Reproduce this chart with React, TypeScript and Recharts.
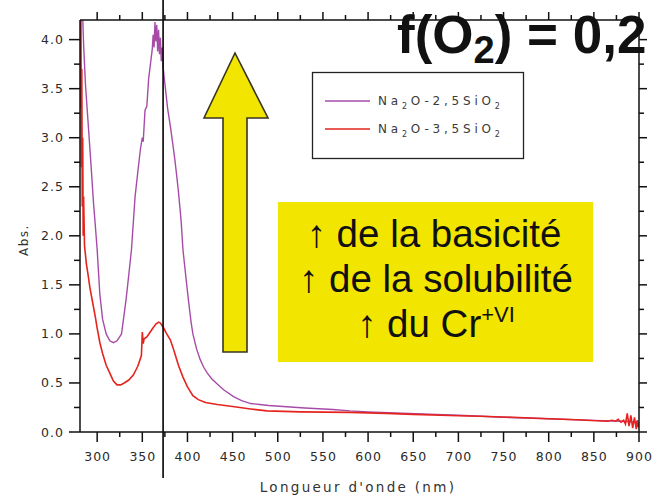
import React from 'react';
import { LineChart, Line, XAxis, YAxis, ReferenceLine } from 'recharts';

// ---------- data ----------
const series1Name = 'Na2O-2,5SiO2';
const series2Name = 'Na2O-3,5SiO2';

const purpleNm = [283, 285, 287, 290, 293, 296, 298, 300, 303, 306, 310, 314, 318, 322, 327, 332, 335, 338, 342, 345, 348, 350, 351, 353, 355, 357, 359, 361, 362, 363, 364, 365, 366, 367, 368, 369, 370, 371, 372, 373, 375, 378, 381, 384, 386, 388, 390, 393, 395, 398, 401, 404, 406, 410, 414, 418, 422, 427, 433, 440, 451, 460, 470, 480, 490, 506, 530, 561, 580, 600, 630, 660, 700, 750, 800, 850, 880, 900];
const purpleAbs = [4.5, 3.95, 3.55, 3.15, 2.75, 2.33, 2.1, 1.86, 1.4, 1.15, 1.0, 0.93, 0.91, 0.93, 1.0, 1.35, 1.6, 1.86, 2.4, 2.65, 2.89, 3.0, 2.96, 3.28, 3.32, 3.6, 3.75, 3.9, 4.05, 3.92, 4.18, 3.98, 4.15, 3.88, 4.1, 3.85, 4.02, 3.78, 3.92, 3.72, 3.55, 3.3, 3.12, 2.92, 2.78, 2.62, 2.45, 2.15, 1.86, 1.6, 1.35, 1.12, 1.0, 0.85, 0.74, 0.66, 0.6, 0.54, 0.49, 0.43, 0.36, 0.32, 0.29, 0.28, 0.27, 0.26, 0.245, 0.23, 0.215, 0.205, 0.195, 0.185, 0.17, 0.15, 0.135, 0.118, 0.11, 0.1];

const redNm = [281, 281.5, 282, 282.5, 283, 283.5, 284, 284.5, 285, 286, 288, 290, 292, 295, 298, 300, 303, 306, 310, 314, 318, 322, 326, 330, 335, 340, 345, 349, 350, 351, 352, 355, 358, 361, 365, 368, 370, 373, 377, 381, 384, 386, 390, 395, 400, 406, 412, 420, 433, 450, 470, 488, 525, 580, 620, 650, 700, 724, 760, 800, 830, 853, 865, 870, 874, 877, 880, 883, 885, 887, 889, 891, 893, 895, 897, 898, 899, 900];
const redAbs = [4.6, 3.3, 4.3, 2.7, 3.7, 2.3, 3.0, 2.0, 2.4, 1.9, 1.72, 1.6, 1.47, 1.32, 1.17, 1.06, 0.91, 0.8, 0.68, 0.6, 0.52, 0.48, 0.48, 0.5, 0.53, 0.58, 0.67, 0.78, 1.02, 0.9, 0.95, 0.97, 1.01, 1.05, 1.1, 1.12, 1.11, 1.07, 1.0, 0.94, 0.86, 0.8, 0.68, 0.56, 0.46, 0.37, 0.33, 0.3, 0.28, 0.26, 0.235, 0.215, 0.205, 0.2, 0.19, 0.18, 0.165, 0.16, 0.15, 0.135, 0.125, 0.115, 0.11, 0.12, 0.11, 0.13, 0.1, 0.12, 0.08, 0.19, 0.06, 0.17, 0.04, 0.15, 0.03, 0.12, 0.05, 0.09];

const xMajorTicks = [300, 350, 400, 450, 500, 550, 600, 650, 700, 750, 800, 850, 900];
const xMinorTicks = [325, 375, 425, 475, 525, 575, 625, 675, 725, 775, 825, 875];
const yMajorTicks = [0, 0.5, 1, 1.5, 2, 2.5, 3, 3.5, 4];
const yMinorTicks = [0.25, 0.75, 1.25, 1.75, 2.25, 2.75, 3.25, 3.75];
const xDomain = [281, 900];
const yDomain = [0, 4.2];
const markerNm = 373;
const markerSpan = [4.405, -0.47];

const xLabel = "Longueur d'onde (nm)";
const yLabel = 'Abs.';
const boxLines = ['de la basicité', 'de la solubilité', 'du Cr'];

const purpleData = purpleNm.map((nm, i) => ({ nm, abs: purpleAbs[i] }));
const redData = redNm.map((nm, i) => ({ nm, abs: redAbs[i] }));
const xTicks = [...xMajorTicks, ...xMinorTicks].sort((a, b) => a - b);
const yTicks = [...yMajorTicks, ...yMinorTicks].sort((a, b) => a - b);

// ---------- styles ----------
const PURPLE = '#a64ca8';
const RED = '#e5241e';
const AXIS = '#111';
const YELLOW = '#f2e600';
const tickText = { fontFamily: 'DejaVu Sans, sans-serif', fontSize: 12.5, fill: '#2a2a2a', letterSpacing: 1 };

const BottomTick = (p: any) => {
  const major = xMajorTicks.includes(p.payload.value);
  return (
    <g>
      <line x1={p.x} y1={p.y} x2={p.x} y2={p.y + (major ? 10 : 5)} stroke={AXIS} strokeWidth={1.5} />
      {major && (
        <text x={p.x + 0.5} y={p.y + 29} textAnchor="middle" {...tickText}>
          {p.payload.value}
        </text>
      )}
    </g>
  );
};
const TopTick = (p: any) => {
  const major = xMajorTicks.includes(p.payload.value);
  return <line x1={p.x} y1={p.y} x2={p.x} y2={p.y - (major ? 8 : 5)} stroke={AXIS} strokeWidth={1.5} />;
};
const LeftTick = (p: any) => {
  const major = yMajorTicks.includes(p.payload.value);
  return (
    <g>
      <line x1={p.x} y1={p.y} x2={p.x - (major ? 11 : 6)} y2={p.y} stroke={AXIS} strokeWidth={1.5} />
      {major && (
        <text x={p.x - 16} y={p.y + 4.5} textAnchor="end" {...tickText}>
          {Number(p.payload.value).toFixed(1)}
        </text>
      )}
    </g>
  );
};
const RightTick = (p: any) => {
  const major = yMajorTicks.includes(p.payload.value);
  return <line x1={p.x} y1={p.y} x2={p.x + (major ? 8 : 5)} y2={p.y} stroke={AXIS} strokeWidth={1.5} />;
};

const Formula = ({ x, y, text }: { x: number; y: number; text: string }) => {
  const parts = [
    { t: 'Na', sub: false },
    { t: '2', sub: true },
    { t: text.slice(3, text.length - 1), sub: false },
    { t: text.slice(-1), sub: true },
  ];
  return (
    <text x={x} y={y} fontFamily="DejaVu Sans, sans-serif" fontSize={12} fill="#3a3a3a" letterSpacing={3.8}>
      {parts.map((pt, i) => (
        <tspan key={i} fontSize={pt.sub ? 8 : 12} dy={pt.sub ? 4 : i > 0 ? -4 : 0}>
          {pt.t}
        </tspan>
      ))}
    </text>
  );
};

export default function App() {
  const W = 653;
  const H = 496;
  return (
    <div style={{ position: 'absolute', left: 0, top: 0, width: W, height: H, background: '#fff', overflow: 'hidden' }}>
      <LineChart width={W} height={H} margin={{ top: 0, right: 0, bottom: 0, left: 0 }}>
        <XAxis
          xAxisId="b"
          dataKey="nm"
          type="number"
          domain={xDomain}
          allowDataOverflow
          ticks={xTicks}
          interval={0}
          height={64}
          tickSize={0}
          tickMargin={0}
          tickLine={false}
          tick={<BottomTick />}
          axisLine={{ stroke: AXIS, strokeWidth: 1.5 }}
        />
        <XAxis
          xAxisId="t"
          orientation="top"
          dataKey="nm"
          type="number"
          domain={xDomain}
          allowDataOverflow
          ticks={xTicks}
          interval={0}
          height={20}
          tickSize={0}
          tickMargin={0}
          tickLine={false}
          tick={<TopTick />}
          axisLine={{ stroke: AXIS, strokeWidth: 1.5 }}
        />
        <YAxis
          yAxisId="l"
          type="number"
          domain={yDomain}
          allowDataOverflow
          ticks={yTicks}
          interval={0}
          width={80}
          tickSize={0}
          tickMargin={0}
          tickLine={false}
          tick={<LeftTick />}
          axisLine={{ stroke: AXIS, strokeWidth: 1.5 }}
        />
        <YAxis
          yAxisId="r"
          orientation="right"
          type="number"
          domain={yDomain}
          allowDataOverflow
          ticks={yTicks}
          interval={0}
          width={14}
          tickSize={0}
          tickMargin={0}
          tickLine={false}
          tick={<RightTick />}
          axisLine={{ stroke: AXIS, strokeWidth: 1.5 }}
        />
        <Line
          xAxisId="b"
          yAxisId="l"
          data={purpleData}
          dataKey="abs"
          name={series1Name}
          type="linear"
          dot={false}
          stroke={PURPLE}
          strokeWidth={1.4}
          isAnimationActive={false}
        />
        <Line
          xAxisId="b"
          yAxisId="l"
          data={redData}
          dataKey="abs"
          name={series2Name}
          type="linear"
          dot={false}
          stroke={RED}
          strokeWidth={1.6}
          isAnimationActive={false}
        />
        <ReferenceLine
          xAxisId="b"
          yAxisId="l"
          segment={[
            { x: markerNm, y: markerSpan[0] },
            { x: markerNm, y: markerSpan[1] },
          ]}
          ifOverflow="visible"
          stroke="#000"
          strokeWidth={1.6}
        />
      </LineChart>
      <svg width={W} height={H} style={{ position: 'absolute', left: 0, top: 0, pointerEvents: 'none' }}>
        <text x={397} y={53} fontFamily="Liberation Sans, Arial, sans-serif" fontWeight="bold" fontSize={53} fill="#111">
          f(O
          <tspan fontSize={38} dy={10}>
            2
          </tspan>
          <tspan dy={-10}>) = 0,2</tspan>
        </text>
        <rect x={312.5} y={72.5} width={211} height={86} fill="#fff" stroke="#222" strokeWidth={1.3} />
        <line x1={325} y1={101} x2={370} y2={101} stroke={PURPLE} strokeWidth={1.3} />
        <Formula x={378} y={105} text={series1Name} />
        <line x1={325} y1={129} x2={370} y2={129} stroke={RED} strokeWidth={1.4} />
        <Formula x={378} y={133} text={series2Name} />
        <polygon
          points="235,53 268,118 247,118 247,352 223,352 223,118 204,118"
          fill={YELLOW}
          stroke="#3a3520"
          strokeWidth={1.6}
          strokeLinejoin="miter"
        />
        <rect x={278} y={202} width={315} height={160} fill={YELLOW} />
        <g fontFamily="Liberation Sans, Arial, sans-serif" fontSize={38.5} fill="#111" textAnchor="middle">
          <text x={434} y={247}>↑ {boxLines[0]}</text>
          <text x={436} y={292}>↑ {boxLines[1]}</text>
          <text x={436} y={337}>
            ↑ {boxLines[2]}
            <tspan fontSize={22} dy={-15}>
              +VI
            </tspan>
          </text>
        </g>
        <text x={358} y={492} textAnchor="middle" fontFamily="DejaVu Sans, sans-serif" fontSize={13.5} letterSpacing={2.3} fill="#333">
          {xLabel}
        </text>
        <text transform="translate(28,240) rotate(-90)" textAnchor="middle" fontFamily="DejaVu Sans, sans-serif" fontSize={12} letterSpacing={1.5} fill="#333">
          {yLabel}
        </text>
      </svg>
    </div>
  );
}
